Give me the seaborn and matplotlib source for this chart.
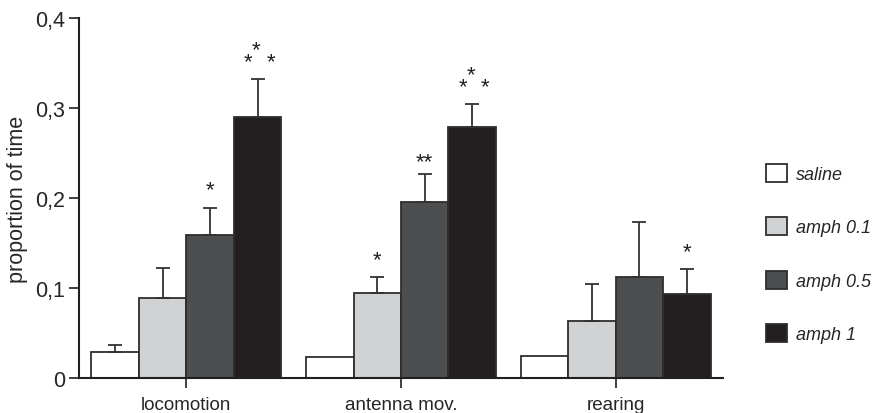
import matplotlib
matplotlib.use("Agg")
import matplotlib.pyplot as plt
from matplotlib.container import BarContainer
import seaborn as sns
import pandas as pd
import numpy as np

# ---- data ----
categories = ["locomotion", "antenna mov.", "rearing"]
groups = ["saline", "amph 0.1", "amph 0.5", "amph 1"]
saline = [0.029, 0.023, 0.024]
amph_01 = [0.089, 0.094, 0.063]
amph_05 = [0.159, 0.196, 0.112]
amph_1 = [0.290, 0.279, 0.093]
# upper error (SEM)
saline_err = [0.008, 0.0, 0.0]
amph_01_err = [0.033, 0.018, 0.041]
amph_05_err = [0.030, 0.031, 0.062]
amph_1_err = [0.043, 0.026, 0.028]
# significance labels
saline_sig = ["", "", ""]
amph_01_sig = ["", "*", ""]
amph_05_sig = ["*", "**", ""]
amph_1_sig = ["***", "***", "*"]
yticks = [0, 0.1, 0.2, 0.3, 0.4]
yticklabels = ["0", "0,1", "0,2", "0,3", "0,4"]

colors = ["#ffffff", "#d1d2d4", "#4d4e50", "#231f20"]

values = [saline, amph_01, amph_05, amph_1]
errs = [saline_err, amph_01_err, amph_05_err, amph_1_err]
sigs = [saline_sig, amph_01_sig, amph_05_sig, amph_1_sig]

rows = []
for g, vals in zip(groups, values):
    for c, v in zip(categories, vals):
        rows.append({"behaviour": c, "group": g, "value": v})
df = pd.DataFrame(rows)

sns.set_style("ticks")
plt.rcParams["font.family"] = ["Liberation Sans", "DejaVu Sans"]

fig = plt.figure(figsize=(8.77, 4.14), dpi=100)
ax = fig.add_axes([0.0901, 0.0845, 0.7343, 0.869])

sns.barplot(data=df, x="behaviour", y="value", hue="group", order=categories,
            hue_order=groups, palette=colors, width=0.884, errorbar=None,
            edgecolor="#2e2e2e", linewidth=1.3, saturation=1, ax=ax, legend=True)

dark = "#231f20"
bar_conts = [c for c in ax.containers if isinstance(c, BarContainer)]
for i, cont in enumerate(bar_conts):
    xs = [p.get_x() + p.get_width() / 2 for p in cont.patches]
    ys = values[i]
    e = errs[i]
    for x, y, ee, s in zip(xs, ys, e, sigs[i]):
        if ee > 0:
            ax.errorbar([x], [y], yerr=[[0], [ee]], fmt="none", ecolor="#333333",
                        elinewidth=1.3, capsize=4.7, capthick=1.3, zorder=1)
        top = y + ee
        if s == "***":
            ax.annotate("*", (x, top), xytext=(-1, 17), textcoords="offset points",
                        ha="center", va="baseline", fontsize=16, color=dark)
            ax.annotate("*", (x, top), xytext=(-6.5, 8.5), textcoords="offset points",
                        ha="center", va="baseline", fontsize=16, color=dark)
            ax.annotate("*", (x, top), xytext=(9.5, 8.5), textcoords="offset points",
                        ha="center", va="baseline", fontsize=16, color=dark)
        elif s:
            ax.annotate(s, (x, top), xytext=(0, 5 if s == "**" else 9),
                        textcoords="offset points",
                        ha="center", va="baseline", fontsize=16, color=dark)

ax.set_ylim(0, 0.4)
ax.set_xlim(-0.5, 2.5)
ax.set_yticks(yticks)
ax.set_yticklabels(yticklabels, fontsize=15.5)
ax.set_xlabel("")
ax.set_ylabel("proportion of time", fontsize=15.5, labelpad=5)
ax.tick_params(axis="x", labelsize=13.5, length=7, width=1.2, color=dark, pad=6)
ax.tick_params(axis="y", length=7, width=1.2, color=dark, pad=3)
for sp in ["top", "right"]:
    ax.spines[sp].set_visible(False)
for sp in ["left", "bottom"]:
    ax.spines[sp].set_linewidth(1.5)
    ax.spines[sp].set_color(dark)

handles, labels = ax.get_legend_handles_labels()
if ax.get_legend() is not None:
    ax.get_legend().remove()
leg = fig.legend(handles, labels, loc="upper left",
                 bbox_to_anchor=(766 / 877, 1 - 165 / 414), frameon=False,
                 prop={"style": "italic", "size": 13}, handlelength=1.15,
                 handleheight=1.15, labelspacing=1.9, handletextpad=0.5,
                 borderpad=0, borderaxespad=0)

fig.savefig("out.png", dpi=100)
